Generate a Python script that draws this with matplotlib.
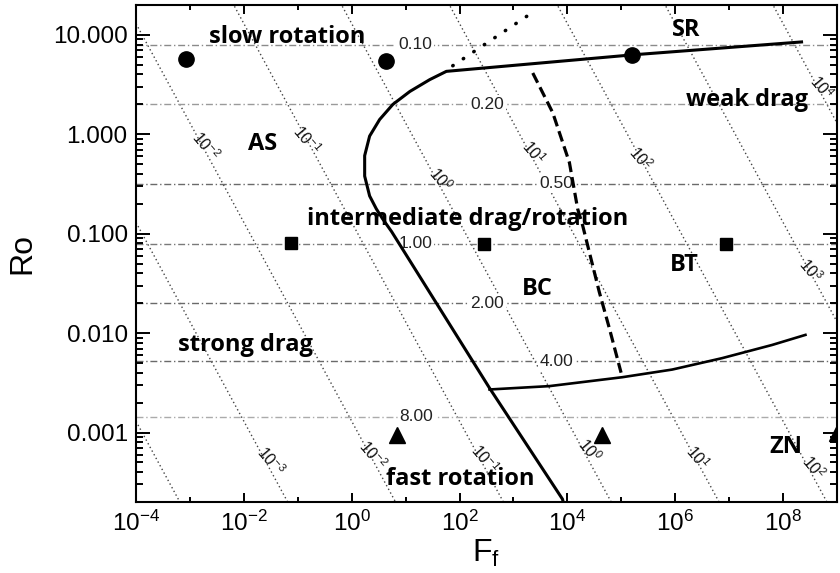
import matplotlib
matplotlib.use('Agg')
import matplotlib.pyplot as plt
from matplotlib.ticker import LogLocator, LogFormatterSciNotation, FormatStrFormatter, NullFormatter

plt.rcParams['font.family'] = ['Liberation Sans', 'DejaVu Sans']
plt.rcParams['axes.unicode_minus'] = True

# ---------- data ----------
# main regime boundary (solid, thick)
bound_f = [2.2e8, 1.6e5, 57, 28, 12, 5.8, 3.3, 2.15, 1.74, 1.74, 2.15, 2.86, 3.75, 5.5, 360, 8.1e3, 8.6e3]
bound_ro = [8.5, 6.3, 4.3, 3.55, 2.7, 2.0, 1.41, 0.96, 0.61, 0.38, 0.24, 0.178, 0.141, 0.105, 0.0028, 2.14e-4, 1.9e-4]

# lower boundary (solid)
low_f = [360, 4640, 1.04e5, 8.8e5, 7.4e6, 6.25e7, 2.6e8]
low_ro = [0.00271, 0.00293, 0.0036, 0.0043, 0.0056, 0.0076, 0.0096]

# dashed boundary
dash_f = [2280, 5350, 1.09e4, 1.55e4, 1.92e4, 3.9e4, 6.0e4, 9.9e4]
dash_ro = [4.14, 1.65, 0.52, 0.178, 0.121, 0.026, 0.0112, 0.0040]

# dotted boundary (big dots)
dot_f = [75, 1800]
dot_ro = [4.9, 15.5]

# simulation points
circ_f = [8.4e-4, 4.3, 1.6e5]
circ_ro = [5.75, 5.5, 6.3]
sq_f = [0.074, 290, 8.9e6]
sq_ro = [0.08, 0.078, 0.078]
tri_f = [6.8, 4.4e4, 1.0e9]
tri_ro = [9.5e-4, 9.5e-4, 1.0e-3]

# horizontal dash-dot lines and their labels
hline_ro = [8.0, 2.0, 0.32, 0.079, 0.020, 0.0052, 0.00144]
hline_lab = ['0.10', '0.20', '0.50', '1.00', '2.00', '4.00', '8.00']
hline_lab_f = [15, 320, 6300, 15, 320, 6300, 16]
hline_col = ['#8a8a8a', '#9a9a9a', '#6a6a6a', '#7a7a7a', '#6a6a6a', '#6a6a6a', '#ababab']

# dotted diagonal lines: Ro * F_f = const
diag_c = [1.3e-7, 1.3e-5, 1.3e-3, 1.3e-1, 1.3e1, 1.3e3, 1.3e5, 1.3e7, 1.3e9]
diag_lab = ['-2', '-1', '0', '1', '2', '3', '4', '-3', '-2', '-1', '0', '1', '2']
diag_lab_f = [2.0e-3, 0.147, 44, 2340, 2.3e5, 3.3e8, 5.3e8, 0.0316, 2.45, 290, 2.6e4, 2.6e6, 3.7e8]
diag_lab_ro = [0.76, 0.87, 0.355, 0.66, 0.575, 0.043, 2.95, 5.2e-4, 6.0e-4, 5.4e-4, 6.6e-4, 5.6e-4, 4.5e-4]

# regime names
reg_txt = ['slow rotation', 'SR', 'weak drag', 'AS', 'intermediate drag/rotation', 'BC', 'BT',
           'strong drag', 'fast rotation', 'ZN']
reg_f = [0.0625, 1.6e6, 2.1e7, 0.0224, 141, 2750, 1.48e6, 0.0105, 105, 1.15e8]
reg_ro = [9.5, 11.2, 2.24, 0.79, 0.14, 0.0275, 0.048, 0.0076, 3.4e-4, 7.2e-4]

xlim = (1e-4, 1e9)
ylim = (2e-4, 20)

# ---------- figure ----------
fig = plt.figure(figsize=(8.4, 5.73), dpi=100)
ax = fig.add_axes([136/840, 1-502/573, (837-136)/840, (502-5)/573])
ax.set_xscale('log')
ax.set_yscale('log')
ax.set_xlim(*xlim)
ax.set_ylim(*ylim)

# dotted diagonals
for c in diag_c:
    ax.plot(xlim, [c/xlim[0], c/xlim[1]], color='#444444', lw=1.0,
            linestyle=(0, (1, 2)), zorder=1)
for lab, f, r in zip(diag_lab, diag_lab_f, diag_lab_ro):
    ax.text(f, r, r'$\mathdefault{10^{%s}}$' % lab, fontsize=11.5, rotation=-50,
            ha='center', va='center', color='#111111', zorder=2, clip_on=True)

# horizontal dash-dot lines
for r, lab, f, col in zip(hline_ro, hline_lab, hline_lab_f, hline_col):
    ax.axhline(r, color=col, lw=1.0, dashes=(5, 2, 1, 2), zorder=1)
    ax.text(f, r, lab, fontsize=12.5, ha='center', va='center', color='#222222',
            bbox=dict(facecolor='white', edgecolor='none', pad=1.5), zorder=3)

# boundaries
ax.plot(bound_f, bound_ro, color='black', lw=2.2, zorder=4, solid_joinstyle='round')
ax.plot(low_f, low_ro, color='black', lw=1.9, zorder=4)
ax.plot(dash_f, dash_ro, color='black', lw=2.3, dashes=(3.4, 1.6), zorder=4)
ax.plot(dot_f, dot_ro, color='black', lw=2.6, linestyle=(0, (0.1, 3.4)),
        dash_capstyle='round', zorder=4)

# simulation points
ax.plot(circ_f, circ_ro, 'o', color='black', ms=11, zorder=5)
ax.plot(sq_f, sq_ro, 's', color='black', ms=9, zorder=5)
ax.plot(tri_f, tri_ro, '^', color='black', ms=12, zorder=5)

# regime names
for t, f, r in zip(reg_txt, reg_f, reg_ro):
    ax.text(f, r, t, fontsize=17, fontweight='bold', family=['Open Sans', 'DejaVu Sans'],
            ha='center', va='center', zorder=6)

# ticks
ax.xaxis.set_major_locator(LogLocator(base=100))
ax.xaxis.set_minor_locator(LogLocator(base=100, subs=[10]))
ax.xaxis.set_major_formatter(LogFormatterSciNotation(base=10))
ax.xaxis.set_minor_formatter(NullFormatter())
ax.yaxis.set_major_locator(LogLocator(base=10))
ax.yaxis.set_minor_locator(LogLocator(base=10, subs=range(2, 10), numticks=20))
ax.yaxis.set_major_formatter(FormatStrFormatter('%.3f'))
ax.yaxis.set_minor_formatter(NullFormatter())

ax.tick_params(which='both', direction='in', top=True, right=True, width=1.4, labelsize=17.5)
ax.tick_params(axis='x', which='major', length=6.5, pad=6)
ax.tick_params(axis='x', which='minor', length=3.5)
ax.tick_params(axis='y', which='major', length=10, pad=6)
ax.tick_params(axis='y', which='minor', length=5)
for s in ax.spines.values():
    s.set_linewidth(1.5)

ax.set_xlabel(r'$\mathdefault{F_f}$', fontsize=23, labelpad=2)
ax.set_ylabel('Ro', fontsize=23, labelpad=11)

fig.savefig('out.png', dpi=100)
